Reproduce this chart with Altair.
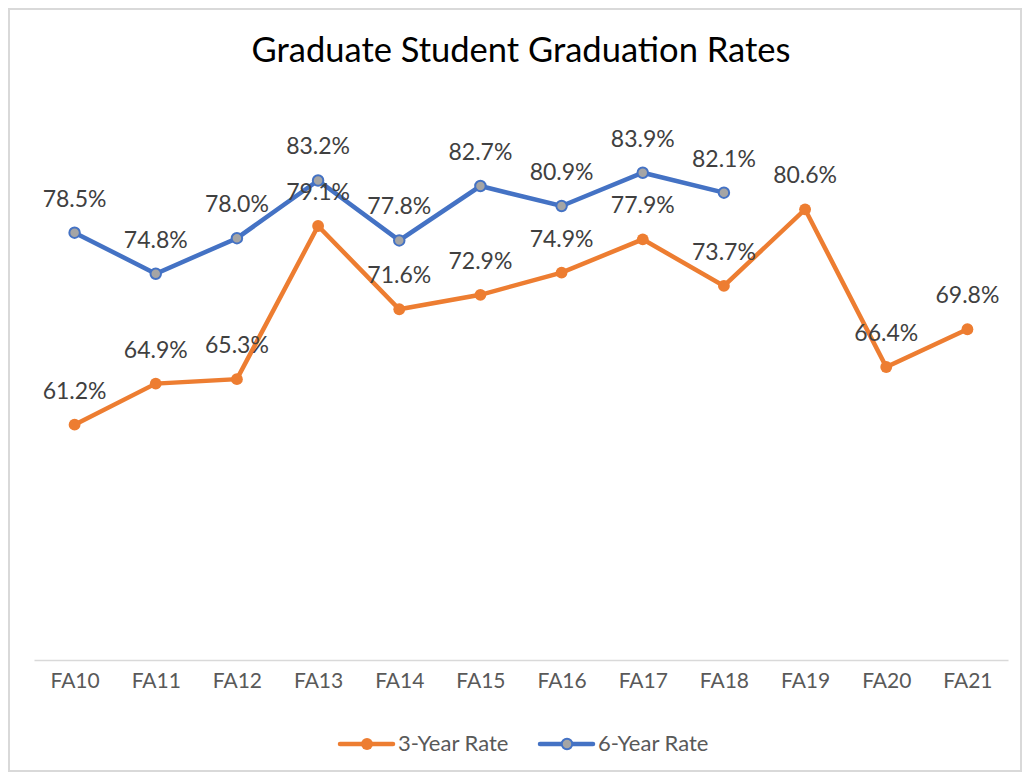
import altair as alt
import pandas as pd

categories = ["FA10", "FA11", "FA12", "FA13", "FA14", "FA15", "FA16", "FA17", "FA18", "FA19", "FA20", "FA21"]
rate3 = [61.2, 64.9, 65.3, 79.1, 71.6, 72.9, 74.9, 77.9, 73.7, 80.6, 66.4, 69.8]
rate6 = [78.5, 74.8, 78.0, 83.2, 77.8, 82.7, 80.9, 83.9, 82.1, None, None, None]
series = ["3-Year Rate", "6-Year Rate"]
title_text = "Graduate Student Graduation Rates"

rows = []
for c, v in zip(categories, rate3):
    rows.append({"term": c, "series": series[0], "value": v})
for c, v in zip(categories, rate6):
    if v is not None:
        rows.append({"term": c, "series": series[1], "value": v})
df = pd.DataFrame(rows)
df["label"] = df["value"].map(lambda v: f"{v:.1f}%")

ORANGE = "#ED7D31"
BLUE = "#4472C4"
GRAY = "#A5A5A5"
FONT = "Lato"

W, H = 974, 555
PL, PT, PR, PB = 26, 97, 14, 112

x = alt.X("term:O", sort=categories, scale=alt.Scale(type="point", padding=0.5),
          axis=alt.Axis(title=None, labelAngle=0, labelFontSize=21, labelColor="#595959",
                        labelFont=FONT, labelPadding=10, ticks=False, domainColor="#D9D9D9",
                        domainWidth=1.5))
y = alt.Y("value:Q", scale=alt.Scale(domain=[40, 90]), axis=None)

base = alt.Chart(df)

d3 = base.transform_filter(alt.datum.series == series[0])
d6 = base.transform_filter(alt.datum.series == series[1])

line3 = d3.mark_line(color=ORANGE, strokeWidth=4.5).encode(x=x, y=y)
pt3 = d3.mark_point(filled=True, color=ORANGE, size=140, opacity=1).encode(x=x, y=y)
line6 = d6.mark_line(color=BLUE, strokeWidth=4.5).encode(x=x, y=y)
pt6 = d6.mark_point(filled=True, fill=GRAY, stroke=BLUE, strokeWidth=2, size=110, opacity=1).encode(x=x, y=y)

labels = base.mark_text(font=FONT, fontSize=23, color="#404040", dy=-33, baseline="middle").encode(
    x=x, y=y, text="label:N")

border = base.mark_rect(fill=None, stroke="#D9D9D9", strokeWidth=1.5).encode(
    x=alt.value(-PL + 1), x2=alt.value(W + PR - 1),
    y=alt.value(-PT + 1), y2=alt.value(H + PB - 1))

title = alt.Chart(pd.DataFrame({"t": [title_text]})).mark_text(
    font=FONT, fontSize=34.5, color="#000000", baseline="middle", align="center").encode(
    x=alt.value(W / 2), y=alt.value(-PT + 44), text="t:N")

# legend
leg_y = 639
leg_items = []
for i, (name, col) in enumerate(zip(series, [ORANGE, BLUE])):
    x0 = 306 + i * 200
    ld = pd.DataFrame({"name": [name]})
    lc = alt.Chart(ld)
    leg_items.append(lc.mark_rule(color=col, strokeWidth=4.5, strokeCap="round").encode(
        x=alt.value(x0), x2=alt.value(x0 + 53), y=alt.value(leg_y)))
    if i == 0:
        leg_items.append(lc.mark_point(filled=True, color=col, size=140, opacity=1).encode(
            x=alt.value(x0 + 27), y=alt.value(leg_y)))
    else:
        leg_items.append(lc.mark_point(filled=True, fill=GRAY, stroke=col, strokeWidth=2, size=110, opacity=1).encode(
            x=alt.value(x0 + 27), y=alt.value(leg_y)))
    leg_items.append(lc.mark_text(font=FONT, fontSize=22, color="#595959", align="left", baseline="middle").encode(
        x=alt.value(x0 + 58), y=alt.value(leg_y), text="name:N"))

chart = alt.layer(border, title, line3, line6, pt3, pt6, labels, *leg_items).properties(
    width=W, height=H,
    padding={"left": PL, "top": PT, "right": PR, "bottom": PB},
    autosize=alt.AutoSizeParams(type="none"),
    background="white",
).configure_view(strokeWidth=0, stroke="transparent")

chart.save("out.html", embed_options={"renderer": "svg", "actions": False})
